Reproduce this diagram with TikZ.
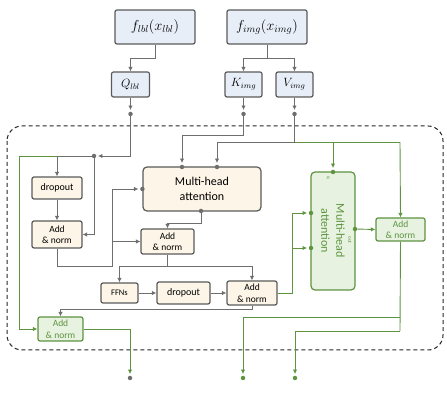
\documentclass[tikz,border=0pt]{standalone}
\usepackage{fontspec}
\setmainfont{Carlito}
\usetikzlibrary{arrows.meta}
\definecolor{lgray}{HTML}{6E6E6E}
\definecolor{bgray}{HTML}{5A5A5A}
\definecolor{bluefill}{HTML}{E7EEF8}
\definecolor{beige}{HTML}{FDF5E7}
\definecolor{gfill}{HTML}{E7F2E1}
\definecolor{gline}{HTML}{5E9440}
\definecolor{gtext}{HTML}{5E9440}
\tikzset{
  box/.style={draw=bgray, line width=1.2pt, rounded corners=2pt, inner sep=0pt, align=center},
  bbox/.style={box, fill=bluefill},
  obox/.style={box, fill=beige},
  gbox/.style={box, draw=gline, fill=gfill, text=gtext},
  arr/.style={draw=lgray, line width=0.9pt, -{Latex[length=4.5pt,width=4.5pt]}},
  ln/.style={draw=lgray, line width=0.9pt},
  garr/.style={draw=gline, line width=0.9pt, -{Latex[length=4.5pt,width=4.5pt]}},
  gln/.style={draw=gline, line width=0.9pt},
  dot/.style={circle, fill=lgray, inner sep=0pt, minimum size=4.5pt},
  gdot/.style={circle, fill=gline, inner sep=0pt, minimum size=4.5pt},
}
\begin{document}
\begin{tikzpicture}[x=1pt,y=-1pt]
\useasboundingbox (0,0) rectangle (447,411);
% dashed container
\draw[dash pattern=on 4pt off 3pt, line width=1pt, draw=black!85, rounded corners=15pt] (7,126) rectangle (443,350);

% top boxes
\node[bbox, minimum width=80pt, minimum height=34pt, font=\fontsize{14}{16}\selectfont] (flbl) at (155,27) {$f_{lbl}(x_{lbl})$};
\node[bbox, minimum width=80pt, minimum height=34pt, font=\fontsize{14}{16}\selectfont] (fimg) at (267,27) {$f_{img}(x_{img})$};
\node[bbox, minimum width=38pt, minimum height=25pt, font=\fontsize{12}{14}\selectfont] (Q) at (130.5,84.5) {$Q_{lbl}$};
\node[bbox, minimum width=37pt, minimum height=25pt, font=\fontsize{12}{14}\selectfont] (K) at (243.5,84.5) {$K_{img}$};
\node[bbox, minimum width=37pt, minimum height=25pt, font=\fontsize{12}{14}\selectfont] (V) at (294.5,84.5) {$V_{img}$};

\node[dot] (dQ) at (130.5,114) {};
\node[dot] (dK) at (243.5,114) {};
\node[dot] (dV) at (294.5,114) {};

% inner boxes
\node[obox, minimum width=50pt, minimum height=22pt, font=\fontsize{10}{11}\selectfont] (drop1) at (57,188) {dropout};
\node[obox, minimum width=50pt, minimum height=27pt, font=\fontsize{9.5}{11.5}\selectfont] (add1) at (57,234.5) {Add\\\& norm};
\node[obox, minimum width=118pt, minimum height=44pt, rounded corners=4pt, font=\fontsize{12}{15}\selectfont] (mha) at (202,189) {Multi-head\\attention};
\node[obox, minimum width=53pt, minimum height=25pt, font=\fontsize{9.5}{11.5}\selectfont] (add2) at (167.5,241.5) {Add\\\& norm};
\node[obox, minimum width=37pt, minimum height=20pt, font=\fontsize{8.5}{10}\selectfont] (ffn) at (119.5,293) {FFNs};
\node[obox, minimum width=53pt, minimum height=22pt, font=\fontsize{10}{11}\selectfont] (drop2) at (183.5,293) {dropout};
\node[obox, minimum width=50pt, minimum height=24pt, font=\fontsize{9.5}{11.5}\selectfont] (add3) at (252,293) {Add\\\& norm};
\node[gbox, minimum width=45pt, minimum height=24pt, font=\fontsize{9.5}{11.5}\selectfont] (addg1) at (60.5,329) {Add\\\& norm};
\node[gbox, minimum width=44pt, minimum height=118pt, rounded corners=4pt] (mha2) at (333,231) {};
\node[text=gtext, rotate=-90, align=center, font=\fontsize{12}{15}\selectfont] (mha2t) at (mha2.center) {Multi-head\\attention};
\node[text=gtext, rotate=-90, font=\fontsize{5}{6}\selectfont, inner sep=0pt] (qlab) at (328,178) {q};
\node[text=gtext, rotate=-90, font=\fontsize{5}{6}\selectfont, inner sep=0pt] (outlab) at (350,240) {out};
\node[gbox, minimum width=49pt, minimum height=23pt, font=\fontsize{9.5}{11.5}\selectfont] (addg2) at (400.5,229.5) {Add\\\& norm};

% junction / port dots
\node[dot] (j1) at (94,156) {};
\node[dot] (mhaL) at (mha.west) {};
\node[dot] (mhaT1) at (182,167) {};
\node[dot] (mhaT2) at (217,167) {};
\node[dot] (mhaB) at (201,211) {};
\node[gdot] (m2T) at (333,172) {};
\node[gdot] (m2L1) at (311,213) {};
\node[gdot] (m2L2) at (311,248) {};
\node[gdot] (m2R) at (355,229) {};
\coordinate (kv) at (294.5,142);
\coordinate (gq) at (333,142);
\coordinate (gtop) at (400,142);
\coordinate (c1) at (57,156);
\coordinate (c2) at (19,156);
\coordinate (a1) at (112,266);
\coordinate (s1) at (167.5,266);
\coordinate (g3) at (292,293);
\coordinate (gb1) at (400,317);
\coordinate (gb2) at (400,331);

% output dots
\node[dot] (o1) at (130,378) {};
\node[gdot] (o2) at (243,378) {};
\node[gdot] (o3) at (295,378) {};

% top connectors
\draw[arr] (flbl.south) -- (155,58) -| (Q.north);
\draw[arr] (fimg.south) -- (267,58) -| (K.north);
\draw[arr] (267,58) -| (V.north);
\draw[arr, shorten >=1.5pt] (Q.south) -- (dQ);
\draw[arr, shorten >=1.5pt] (K.south) -- (dK);
\draw[arr, shorten >=1.5pt] (V.south) -- (dV);

% Q path
\draw[arr, shorten >=1.5pt] (dQ) |- (j1);
\draw[arr] (j1) -- (c1) -- (drop1.north);
\draw[arr] (j1) |- (add1.east);
\draw[garr] (c1) -- (c2) |- (addg1.west);
\draw[arr] (drop1) -- (add1);

% K and V paths
\draw[arr, shorten >=1.5pt] (dK) |- (182,135) -- (mhaT1);
\draw[arr, shorten >=1.5pt] (dV) -- (kv) -- (217,142) -- (mhaT2);
\draw[gln] (kv) -- (gtop);
\draw[garr] (gtop) -- (addg2.north);
\draw[garr, shorten >=1.5pt] (gq) -- (m2T);

% add1 -> mha, add2
\draw[arr, shorten >=1.5pt] (add1.south) |- (a1) |- (mhaL);
\draw[arr] (a1) |- (add2.west);
\draw[arr] (mhaB) -- (201,223) -| (add2.north);

% add2 -> FFNs, add3
\draw[ln] (add2.south) -- (s1);
\draw[arr] (s1) -| (ffn.north);
\draw[arr] (s1) -| (add3.north);
\draw[arr] (ffn) -- (drop2);
\draw[arr] (drop2) -- (add3);
\draw[arr] (add3.south) |- (60.5,309) -- (addg1.north);

% add3 -> mha2
\draw[garr, shorten >=1.5pt] (add3.east) -- (g3) |- (m2L1);
\draw[garr, shorten >=1.5pt] (g3) |- (m2L2);
\draw[garr] (m2R) -- (addg2.west);

% outputs
\draw[garr, shorten >=1.5pt] (addg1.east) -| (o1);
\draw[gln] (addg2.south) -- (gb2);
\draw[garr, shorten >=1.5pt] (gb1) -| (o2);
\draw[garr, shorten >=1.5pt] (gb2) -| (o3);
\end{tikzpicture}
\end{document}
